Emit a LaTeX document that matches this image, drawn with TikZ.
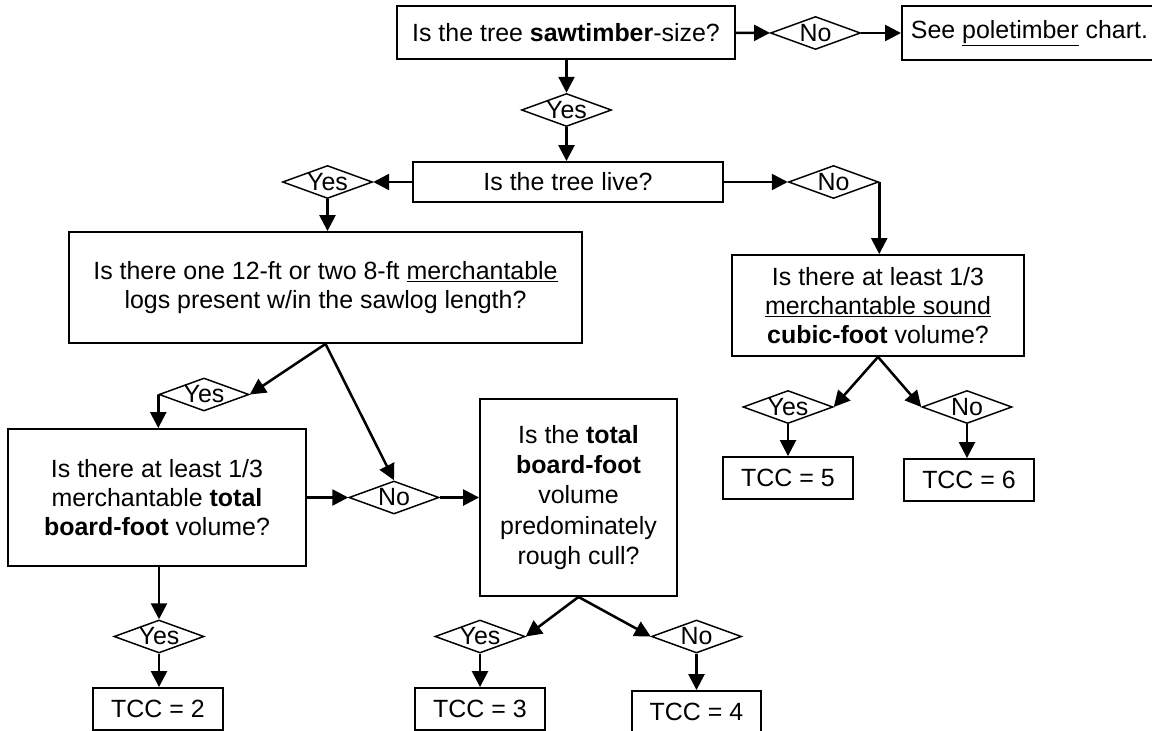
\documentclass[tikz,border=0pt]{standalone}
\usepackage{fontspec}
\setmainfont{Liberation Sans}
\usetikzlibrary{shapes.geometric,arrows.meta}

\begin{document}
\begin{tikzpicture}[
    x=0.75pt, y=-0.75pt,
    font=\fontsize{18.7}{21.5}\selectfont,
    question/.style={rectangle, draw, line width=1.4pt, align=center, inner sep=0pt},
    answer/.style={diamond, draw, line width=1.1pt, inner sep=0pt, aspect=2.7, minimum width=67.5pt, minimum height=24.75pt},
    result/.style={rectangle, draw, line width=1.4pt, inner sep=0pt, minimum width=97pt, minimum height=31.5pt},
    arrow/.style={line width=1.9pt, -{Triangle[length=12pt, width=12pt]}}
]
\useasboundingbox (0,0) rectangle (1152,731);

% Questions
\node[question, minimum width=253.5pt, minimum height=39.75pt] (sawtimber) at (566,32.5) {Is the tree \textbf{sawtimber}-size?};
\node[question, anchor=west, inner xsep=6.75pt, minimum height=40.5pt] (pole) at (901,33) {See \underline{poletimber} chart.};
\node[question, minimum width=232.5pt, minimum height=30pt] (live) at (568,182) {Is the tree live?};
\node[question, minimum width=384.75pt, minimum height=83.25pt] (logs) at (325.5,287.5) {
    Is there one 12-ft or two 8-ft \underline{merchantable} \\
    logs present w/in the sawlog length?
};
\node[question, minimum width=219pt, minimum height=75.75pt] (sound) at (878,305.5) {
    Is there at least 1/3 \\
    \underline{merchantable sound} \\
    \textbf{cubic-foot} volume?
};
\node[question, minimum width=223.5pt, minimum height=102.75pt] (total) at (157,497.5) {
    Is there at least 1/3 \\
    merchantable \textbf{total} \\
    \textbf{board-foot} volume?
};
\node[question, minimum width=147.75pt, minimum height=147.75pt, font=\fontsize{18.7}{22.7}\selectfont] (cull) at (578.5,497.5) {
    Is the \textbf{total} \\
    \textbf{board-foot} \\
    volume \\
    predominately \\
    rough cull?
};

% Answers
\node[answer] (nosaw) at (815.5,33) {No};
\node[answer] (yessaw) at (566.5,110) {Yes};
\node[answer] (yeslive) at (327.5,182) {Yes};
\node[answer] (nolive) at (833.5,182) {No};
\node[answer] (yeslogs) at (204,394.5) {Yes};
\node[answer] (nologs) at (394,497.5) {No};
\node[answer] (yestotal) at (159,636.5) {Yes};
\node[answer] (yescull) at (480,636.5) {Yes};
\node[answer] (nocull) at (696.5,636.5) {No};
\node[answer] (yessound) at (788,407) {Yes};
\node[answer] (nosound) at (967,407) {No};

% Results
\node[result] (tcc2) at (158,709) {TCC = 2};
\node[result] (tcc3) at (480,709) {TCC = 3};
\node[result] (tcc4) at (696.5,712) {TCC = 4};
\node[result] (tcc5) at (788,478) {TCC = 5};
\node[result] (tcc6) at (969,480) {TCC = 6};

% Connections
\draw[arrow] (sawtimber) -- (nosaw);
\draw[arrow] (nosaw) -- (pole);
\draw[arrow] (yessaw |- sawtimber.south) -- (yessaw);
\draw[arrow] (yessaw) -- (yessaw |- live.north);
\draw[arrow] (live) -- (yeslive);
\draw[arrow] (yeslive) -- (yeslive |- logs.north);
\draw[arrow] (live) -- (nolive);
\draw[arrow] (nolive.east) -- (nolive.east |- sound.north);
\draw[arrow] (logs.south) -- (yeslogs.east);
\draw[arrow] (logs.south) -- (nologs.north);
\draw[arrow] (yeslogs.west) -- (yeslogs.west |- total.north);
\draw[arrow] (total) -- (nologs);
\draw[arrow] (nologs) -- (cull);
\draw[arrow] (yestotal |- total.south) -- (yestotal);
\draw[arrow] (yestotal) -- (yestotal |- tcc2.north);
\draw[arrow] (cull.south) -- (yescull.east);
\draw[arrow] (cull.south) -- (nocull.west);
\draw[arrow] (yescull) -- (yescull |- tcc3.north);
\draw[arrow] (nocull) -- (nocull |- tcc4.north);
\draw[arrow] (sound.south) -- (yessound.east);
\draw[arrow] (sound.south) -- (nosound.west);
\draw[arrow] (yessound) -- (yessound |- tcc5.north);
\draw[arrow] (nosound) -- (nosound |- tcc6.north);

\end{tikzpicture}
\end{document}
